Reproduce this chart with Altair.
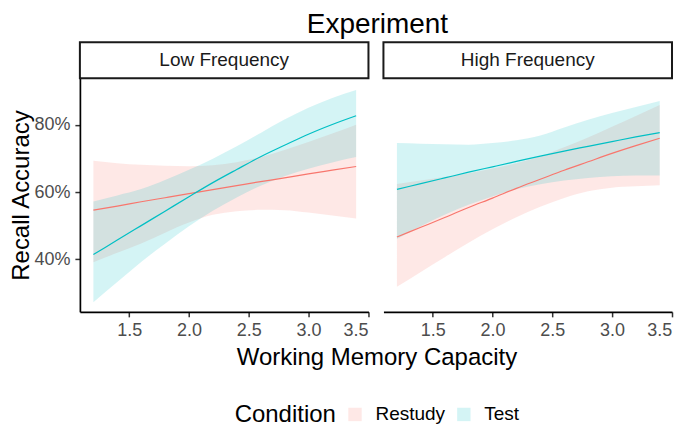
import altair as alt
import pandas as pd

FONT = "Liberation Sans"

# Working memory capacity grid (x)
x_grid = [1.2, 1.4, 1.6, 1.8, 2.0, 2.2, 2.4, 2.6, 2.8, 3.0, 3.2, 3.4]

conditions = ["Restudy", "Test"]
panels = ["Low Frequency", "High Frequency"]
colors = ["#F8766D", "#00BFC4"]

# Low Frequency panel
low_restudy_fit = [0.546, 0.558, 0.571, 0.583, 0.595, 0.607, 0.619, 0.631, 0.642, 0.654, 0.665, 0.676]
low_restudy_lo = [0.391, 0.419, 0.447, 0.479, 0.509, 0.532, 0.543, 0.547, 0.546, 0.539, 0.530, 0.521]
low_restudy_hi = [0.693, 0.686, 0.681, 0.678, 0.677, 0.680, 0.689, 0.704, 0.725, 0.749, 0.774, 0.800]
low_test_fit = [0.414, 0.457, 0.500, 0.543, 0.586, 0.628, 0.667, 0.705, 0.739, 0.772, 0.801, 0.827]
low_test_lo = [0.272, 0.332, 0.392, 0.446, 0.498, 0.544, 0.584, 0.619, 0.647, 0.669, 0.688, 0.704]
low_test_hi = [0.572, 0.590, 0.609, 0.636, 0.666, 0.699, 0.736, 0.776, 0.816, 0.851, 0.880, 0.904]

# High Frequency panel
high_restudy_fit = [0.466, 0.495, 0.524, 0.554, 0.582, 0.611, 0.638, 0.665, 0.690, 0.715, 0.738, 0.760]
high_restudy_lo = [0.318, 0.362, 0.406, 0.449, 0.489, 0.525, 0.556, 0.582, 0.602, 0.613, 0.617, 0.620]
high_restudy_hi = [0.624, 0.634, 0.645, 0.656, 0.670, 0.686, 0.706, 0.733, 0.762, 0.794, 0.826, 0.859]
high_test_fit = [0.608, 0.625, 0.642, 0.659, 0.675, 0.691, 0.707, 0.722, 0.736, 0.750, 0.764, 0.777]
high_test_lo = [0.460, 0.498, 0.532, 0.562, 0.587, 0.608, 0.623, 0.634, 0.642, 0.647, 0.649, 0.649]
high_test_hi = [0.746, 0.744, 0.742, 0.741, 0.746, 0.754, 0.768, 0.792, 0.815, 0.835, 0.853, 0.871]

series = {
    ("Low Frequency", "Restudy"): (low_restudy_fit, low_restudy_lo, low_restudy_hi),
    ("Low Frequency", "Test"): (low_test_fit, low_test_lo, low_test_hi),
    ("High Frequency", "Restudy"): (high_restudy_fit, high_restudy_lo, high_restudy_hi),
    ("High Frequency", "Test"): (high_test_fit, high_test_lo, high_test_hi),
}

rows = []
for (p, c), (fit, lo, hi) in series.items():
    for xv, f, l, h in zip(x_grid, fit, lo, hi):
        rows.append({"panel": p, "condition": c, "x": xv, "fit": f, "lo": l, "hi": h})
df = pd.DataFrame(rows)

W, H = 289, 234
STRIP_H = 36

xscale = alt.Scale(domain=[1.087, 3.503], nice=False, zero=False)
yscale = alt.Scale(domain=[0.2433, 0.9388], nice=False, zero=False)
cscale = alt.Scale(domain=conditions, range=colors)

axis_common = dict(
    grid=False, domainColor="black", domainWidth=1.7, tickColor="#333333",
    tickWidth=1.5, tickSize=5, labelColor="#4D4D4D", labelFontSize=18,
    labelFont=FONT, labelPadding=5, titleFont=FONT, titleFontSize=24,
    titleFontWeight="normal", titleColor="black",
)


def make_panel(name, first):
    d = df[df["panel"] == name]
    base = alt.Chart(d)
    if first:
        xaxis = alt.Axis(values=[1.5, 2.0, 2.5, 3.0, 3.5], format=".1f",
                         title="Working Memory Capacity", titleX=297,
                         titleAlign="center", titlePadding=6, **axis_common)
        yaxis = alt.Axis(values=[0.4, 0.6, 0.8], format=".0%",
                         title="Recall Accuracy", titlePadding=0, **axis_common)
    else:
        xaxis = alt.Axis(values=[1.5, 2.0, 2.5, 3.0, 3.5], format=".1f",
                         title=None, **axis_common)
        yaxis = None
    band = base.mark_area(opacity=0.17, interpolate="monotone").encode(
        x=alt.X("x:Q", scale=xscale, axis=xaxis),
        y=alt.Y("lo:Q", scale=yscale, axis=yaxis),
        y2="hi:Q",
        fill=alt.Fill("condition:N", scale=cscale, legend=alt.Legend(
            title="Condition", orient="none", legendX=155, legendY=327,
            direction="horizontal", titleOrient="left", titleFont=FONT,
            titleFontSize=24, titleFontWeight="normal", titleColor="black",
            titlePadding=9, labelFont=FONT, labelFontSize=19,
            labelColor="black", labelOffset=11, columnPadding=9,
            symbolType="square", symbolSize=180, symbolOpacity=0.17,
            symbolStrokeWidth=0)),
    )
    line = base.mark_line(strokeWidth=1.2, interpolate="monotone").encode(
        x=alt.X("x:Q", scale=xscale),
        y=alt.Y("fit:Q", scale=yscale),
        stroke=alt.Stroke("condition:N", scale=cscale, legend=None),
    )
    lab = alt.Chart(pd.DataFrame({"label": [name]}))
    strip_rect = lab.mark_rect(fill="white", stroke="#1A1A1A", strokeWidth=2).encode(
        x=alt.value(0), x2=alt.value(W), y=alt.value(-STRIP_H), y2=alt.value(0))
    strip_text = lab.mark_text(font=FONT, fontSize=19, color="#1A1A1A").encode(
        text="label:N", x=alt.value(W / 2), y=alt.value(-STRIP_H / 2))
    return alt.layer(band, line, strip_rect, strip_text).properties(width=W, height=H)


left = make_panel("Low Frequency", True)
right = make_panel("High Frequency", False)

chart = alt.hconcat(left, right, spacing=15, bounds="flush").resolve_scale(
    fill="shared", stroke="shared"
).properties(
    title=alt.TitleParams("Experiment", font=FONT, fontSize=28, fontWeight="normal",
                          color="black", anchor="middle", frame="bounds", dx=36,
                          offset=2),
    padding={"left": 1, "top": 3, "right": 4, "bottom": 0},
).configure_view(strokeWidth=0)

chart.save("out.html", embed_options={"renderer": "svg", "actions": False})
